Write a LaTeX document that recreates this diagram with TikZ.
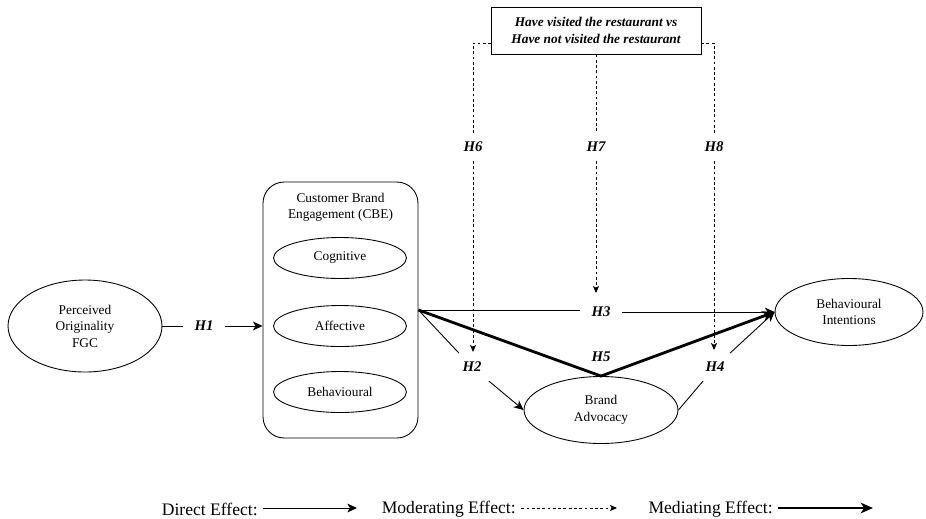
\documentclass[tikz,border=0pt]{standalone}
\usepackage{fontspec}
\setmainfont{Liberation Serif}
\usetikzlibrary{positioning, shapes.geometric, arrows.meta}

\begin{document}
\begin{tikzpicture}[x=0.02cm, y=-0.02cm,
				font=\fontsize{7.6}{9.4}\selectfont,
				construct/.style={draw, ellipse, inner sep=0pt, align=center, line width=0.5pt},
				dim/.style={construct, minimum width=2.66cm, minimum height=0.82cm},
				group/.style={draw, rectangle, rounded corners=12pt, line width=0.5pt, minimum width=3.1cm, minimum height=5.12cm},
				modbox/.style={draw, rectangle, align=center, line width=0.5pt, minimum width=4.2cm, minimum height=0.94cm, font=\fontsize{7.6}{9.4}\selectfont\bfseries\itshape},
				hyp/.style={inner xsep=6.5pt, inner ysep=5pt, font=\fontsize{8.4}{10}\selectfont\bfseries\itshape},
				legend/.style={anchor=east, inner sep=0pt, font=\fontsize{10}{12}\selectfont},
				direct/.style={line width=0.5pt},
				moder/.style={line width=0.5pt, dash pattern=on 1.6pt off 1.4pt},
				medi/.style={line width=1.6pt},
				tip/.style={-{Stealth[length=5.5pt, width=5pt, inset=1.5pt]}},
				smalltip/.style={-{Stealth[length=4pt, width=3.5pt, inset=1pt]}},
				bigtip/.style={-{Stealth[length=7pt, width=6pt, inset=2pt]}},
			]
			\useasboundingbox (0,0) rectangle (926,518);

			% constructs
			\node[construct, minimum width=3.08cm, minimum height=1.84cm] (fgc) at (85,326) {Perceived\\Originality\\FGC};
			\node[group] (cbe) at (340.5,310) {};
			\node[align=center, below=3pt of cbe.north] (cbetitle) {Customer Brand\\Engagement (CBE)};
			\node[dim] (cog) at (340,258) {Cognitive};
			\node[dim] (aff) at (340,326) {Affective};
			\node[dim] (beh) at (340,392) {Behavioural};
			\node[construct, minimum width=3.08cm, minimum height=1.34cm] (ba) at (601,410) {Brand\\Advocacy};
			\node[construct, minimum width=2.96cm, minimum height=1.34cm] (bi) at (849,312) {Behavioural\\Intentions};

			% moderator
			\node[modbox] (mod) at (596,30.5) {Have visited the restaurant vs\\Have not visited the restaurant};
			\coordinate (modl) at (491,43);
			\coordinate (modr) at (701,43);

			% hypothesis labels
			\node[hyp] (h1) at (204,326) {H1};
			\node[hyp] (h2) at (472,367) {H2};
			\node[hyp] (h3) at (601,312) {H3};
			\node[hyp] (h4) at (715,367) {H4};
			\node[hyp] (h5) at (601,357) {H5};
			\node[hyp] (h6) at (473,147) {H6};
			\node[hyp] (h7) at (596,147) {H7};
			\node[hyp] (h8) at (714,147) {H8};
			\coordinate (m6) at (473,352);
			\coordinate (m7) at (596,293);
			\coordinate (m8) at (714,350);

			% direct effects
			\draw[direct] (fgc) -- (h1);
			\draw[direct, tip] (h1) -- (cbe.west |- h1);
			\draw[direct] (cbe.east) -- (cbe.east -| h3.west);
			\draw[direct, tip] (h3) -- (bi);
			\draw[direct] (cbe.east) -- (h2);
			\draw[direct, tip] (h2) -- (ba.west);
			\draw[direct] (ba.east) -- (h4);
			\draw[direct, tip] (h4) -- (bi.west);

			% mediating effect
			\draw[medi, bigtip] (cbe.east) -- (ba.north) -- (bi.west);

			% moderating effects
			\draw[moder] (modl) -| (h6);
			\draw[moder, smalltip] (h6) -- (m6);
			\draw[moder] (mod) -- (h7);
			\draw[moder, smalltip] (h7) -- (m7);
			\draw[moder] (modr) -| (h8);
			\draw[moder, smalltip] (h8) -- (m8);

			% legend
			\node[legend] (ldir) at (258,509) {Direct Effect:};
			\node[legend] (lmod) at (516,509) {Moderating Effect:};
			\node[legend] (lmed) at (773,509) {Mediating Effect:};
			\coordinate (ldirend) at (357,508);
			\coordinate (lmodend) at (617,508);
			\coordinate (lmedend) at (873,508);
			\draw[direct, tip] ([xshift=3pt]ldir.east |- ldirend) -- (ldirend);
			\draw[moder, smalltip] ([xshift=3pt]lmod.east |- lmodend) -- (lmodend);
			\draw[medi, bigtip] ([xshift=3pt]lmed.east |- lmedend) -- (lmedend);
		\end{tikzpicture}
\end{document}
